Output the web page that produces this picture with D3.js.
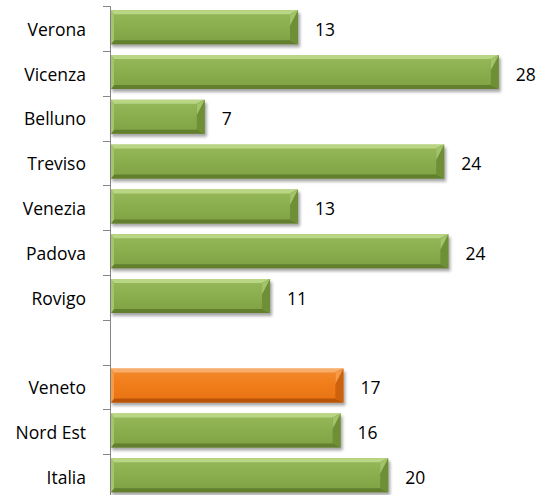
<!DOCTYPE html>
<html><head><meta charset="utf-8">
<script src="https://cdn.jsdelivr.net/npm/d3@7"></script>
<style>
body{margin:0;background:#fff;}
text{font-family:"Open Sans","Noto Sans",sans-serif;fill:#000;}
</style></head>
<body><svg id="c" width="543" height="495"></svg>
<script>
const categories = ["Verona","Vicenza","Belluno","Treviso","Venezia","Padova","Rovigo","","Veneto","Nord Est","Italia"];
const values = [13.36, 27.7, 6.7, 23.8, 13.36, 24.1, 11.36, null, 16.6, 16.4, 19.8];
const highlight = ["Veneto"];

const svg = d3.select("#c");
const keys = categories.map((c,i)=>i);
const y = d3.scaleBand().domain(keys).range([6.2, 499]).paddingInner(0).paddingOuter(0);
const x = d3.scaleLinear().domain([0,30]).range([111, 531]);
const axisX = 110.5;

const defs = svg.append("defs");
const f = defs.append("filter").attr("id","sh").attr("x","-10%").attr("y","-30%").attr("width","130%").attr("height","180%");
f.append("feGaussianBlur").attr("stdDeviation",1.8);

function grad(id, stops){
  const g = defs.append("linearGradient").attr("id",id).attr("x1",0).attr("y1",0).attr("x2",0).attr("y2",1);
  stops.forEach(s=>g.append("stop").attr("offset",s[0]).attr("stop-color",s[1]));
}
const pal = {
  g:{face:[["0","#97b95b"],["0.5","#8aad4d"],["1","#7fa144"]], top:"#b9d684", bot:"#627f2e", left:"#a6c46c", right:"#6f8f37", rightTop:"#a3c36b"},
  o:{face:[["0","#f48a2c"],["0.5","#f07c19"],["1","#e87212"]], top:"#f8ae6a", bot:"#b85508", left:"#f59a46", right:"#cc620c", rightTop:"#f49a48"}
};
grad("gface", pal.g.face); grad("oface", pal.o.face);

// axis line & ticks
svg.append("line").attr("x1",axisX).attr("x2",axisX).attr("y1",y.range()[0]).attr("y2",y.range()[1]).attr("stroke","#868686").attr("stroke-width",1);
const bounds = keys.map(k=>y(k)).concat([y.range()[1]]);
svg.selectAll("line.tk").data(bounds).join("line").attr("class","tk")
  .attr("x1",103).attr("x2",axisX).attr("y1",d=>Math.round(d)+0.5).attr("y2",d=>Math.round(d)+0.5)
  .attr("stroke","#868686");

const fs = "17.5px";
// category labels
svg.selectAll("text.cat").data(keys).join("text").attr("class","cat")
  .attr("x",86).attr("y",k=>y(k)+y.bandwidth()/2+1).attr("dy","0.35em")
  .attr("text-anchor","end").style("font-size",fs).text(k=>categories[k]);

const bh = 34;
keys.forEach(k=>{
  const v = values[k];
  if(v==null) return;
  const p = highlight.includes(categories[k]) ? pal.o : pal.g;
  const fid = highlight.includes(categories[k]) ? "oface" : "gface";
  const x0 = x(0), x1 = x(v), y0 = y(k)+4, y1 = y0+bh;
  const g = svg.append("g");
  g.append("rect").attr("x",x0+1).attr("y",y0+3).attr("width",x1-x0+1).attr("height",bh)
    .attr("fill","#000").attr("opacity",0.35).attr("filter","url(#sh)");
  g.append("rect").attr("x",x0).attr("y",y0).attr("width",x1-x0).attr("height",bh).attr("fill",`url(#${fid})`);
  const tt=4, tb=4, bl=3, br=8;
  const poly = (pts,fill)=>g.append("polygon").attr("points",pts.map(q=>q.join(",")).join(" ")).attr("fill",fill);
  poly([[x0,y0],[x1,y0],[x1-br,y0+tt],[x0+bl,y0+tt]], p.top);
  poly([[x0,y1],[x1,y1],[x1-br,y1-tb],[x0+bl,y1-tb]], p.bot);
  poly([[x0,y0],[x0+bl,y0+tt],[x0+bl,y1-tb],[x0,y1]], p.left);
  poly([[x1,y0],[x1,y1],[x1-br,y1-tb],[x1-br,y0+tt]], p.right);
  poly([[x1,y0],[x1-br,y0+tt],[x1-br,y0+bh*0.45]], p.rightTop);
  g.append("text").attr("x",x1+17).attr("y",y(k)+y.bandwidth()/2+1).attr("dy","0.35em")
    .style("font-size",fs).text(d3.format(".0f")(v));
});
</script></body></html>
